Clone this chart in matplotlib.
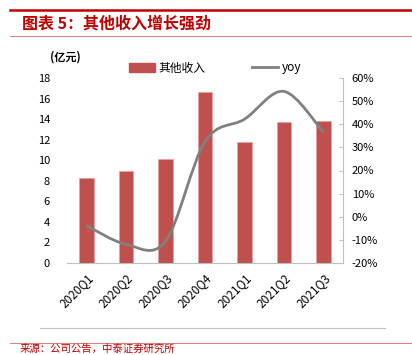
import matplotlib
matplotlib.use("Agg")
import matplotlib.pyplot as plt
from matplotlib.path import Path
from matplotlib.patches import PathPatch
from matplotlib.lines import Line2D
from matplotlib.patches import Patch
import numpy as np

plt.rcParams['font.family'] = ['Noto Sans CJK SC', 'DejaVu Sans']

quarters = ["2020Q1", "2020Q2", "2020Q3", "2020Q4", "2021Q1", "2021Q2", "2021Q3"]
other_income = [8.25, 8.95, 10.1, 16.6, 11.75, 13.75, 13.85]
yoy = [-3.8, -11.9, -10.6, 32.5, 42.2, 54.2, 36.4]

bar_color = "#C0504D"
line_color = "#808080"
red = "#C00000"

fig = plt.figure(figsize=(4.12, 3.55), dpi=100)
ax = fig.add_axes([66.7 / 412, 1 - 263 / 355, 276.6 / 412, 185 / 355])
ax2 = ax.twinx()

x = np.arange(len(quarters))
ax.bar(x, other_income, width=0.36, color=bar_color, edgecolor="#E8A0A0", linewidth=0.5, zorder=2)
ax.set_xlim(-0.5, 6.5)
ax.set_ylim(0, 18)
ax.set_yticks(range(0, 19, 2))
ax.set_xticks(x)
ax.set_xticklabels(quarters, rotation=45, ha="right", rotation_mode="anchor", fontsize=8.5)
ax.tick_params(axis="y", length=0, labelsize=8, pad=12)
ax.tick_params(axis="x", length=0, pad=6)
for s in ["top", "left", "right"]:
    ax.spines[s].set_visible(False)
ax.spines["bottom"].set_color("#BFBFBF")

# smoothed yoy line (cubic bezier through the data points)
xs = x.astype(float)
ys = np.array(yoy, dtype=float)
verts = [(xs[0], ys[0])]
codes = [Path.MOVETO]
n = len(xs)
for i in range(n - 1):
    p0 = (xs[max(i - 1, 0)], ys[max(i - 1, 0)])
    p1 = (xs[i], ys[i])
    p2 = (xs[i + 1], ys[i + 1])
    p3 = (xs[min(i + 2, n - 1)], ys[min(i + 2, n - 1)])
    c1 = (p1[0] + (p2[0] - p0[0]) / 6, p1[1] + (p2[1] - p0[1]) / 6)
    c2 = (p2[0] - (p3[0] - p1[0]) / 6, p2[1] - (p3[1] - p1[1]) / 6)
    verts += [c1, c2, p2]
    codes += [Path.CURVE4] * 3
ax2.add_patch(PathPatch(Path(verts, codes), facecolor="none", edgecolor=line_color, lw=2, zorder=3))
ax2.set_ylim(-20, 60)
ax2.set_yticks(range(-20, 61, 10))
ax2.set_yticklabels([f"{v}%" for v in range(-20, 61, 10)])
ax2.tick_params(axis="y", direction="in", length=3, color="#BFBFBF", labelsize=8, pad=6)
for s in ["top", "left", "bottom"]:
    ax2.spines[s].set_visible(False)
ax2.spines["right"].set_color("#BFBFBF")

handles = [Patch(color=bar_color), Line2D([0], [0], color=line_color, lw=2)]
fig.legend(handles, ["其他收入", "yoy"], ncol=2, frameon=False, fontsize=8.5,
           loc="center", bbox_to_anchor=(215 / 412, 1 - 68 / 355),
           columnspacing=4, handlelength=2.2, handleheight=0.7, handletextpad=0.3)

fig.text(50 / 412, 1 - 57 / 355, "(亿元)", fontsize=8, fontweight="bold", va="center")

# header & footer decorations
fig.add_artist(Line2D([10 / 412, 1], [1 - 10 / 355] * 2, color=red, lw=1.8))
fig.add_artist(Line2D([10 / 412, 1], [1 - 36 / 355] * 2, color="#E06666", lw=0.6))
fig.text(22 / 412, 1 - 24 / 355, "图表 5：其他收入增长强劲", color=red, fontsize=11.5,
         fontweight="bold", style="italic", va="center")
fig.add_artist(Line2D([40 / 412, 385 / 412], [1 - 328 / 355] * 2, color="#BFBFBF", lw=0.8))
fig.add_artist(Line2D([10 / 412, 1], [1 - 343 / 355] * 2, color="#E06666", lw=0.6))
fig.text(20 / 412, 1 - 349 / 355, "来源：公司公告，中泰证券研究所", color=red, fontsize=7.5, va="center")

fig.savefig("out.png", dpi=100)
